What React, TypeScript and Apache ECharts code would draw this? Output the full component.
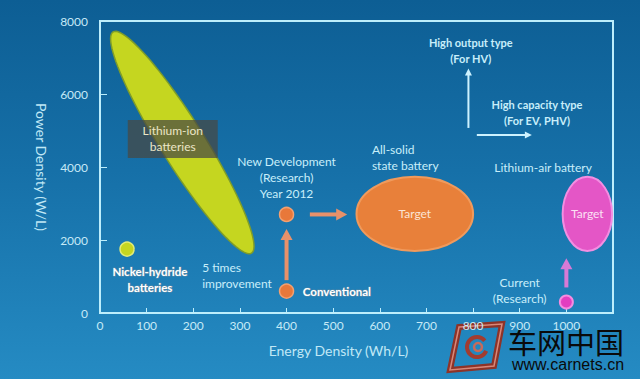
import React, { useEffect, useRef } from "react";
import * as echarts from "echarts";

// ---- axes ----
const energyAxisMax = 1100;
const energyTickStep = 100;
const powerAxisMax = 8000;
const powerTickStep = 2000;

// ---- data (Energy Density Wh/L, Power Density W/L) ----
const lithiumIonSpan = [[28, 7700], [325, 1640]]; // ends of the Li-ion band
const nickelHydride = [[58, 1750]];
const conventional = [[400, 600]];
const newDevelopment = [[400, 2700]];
const lithiumAirCurrent = [[1000, 300]];
const allSolidTargetX = [550, 800];
const allSolidTargetY = [1700, 3730];
const lithiumAirTargetX = [992, 1098];
const lithiumAirTargetY = [1700, 3730];
const improvementArrows = [[400, 900, 400, 2300], [450, 2700, 530, 2700]];
const lithiumAirArrows = [[1000, 700, 1000, 1500]];
const typeArrows = [[790, 5070, 790, 6700], [808, 4880, 926, 4880]];

const noteTexts = [
  "Lithium-ion\nbatteries",
  "Nickel-hydride\nbatteries",
  "5 times\nimprovement",
  "Conventional",
  "New Development\n(Research)\nYear 2012",
  "All-solid\nstate battery",
  "Lithium-air battery",
  "Current\n(Research)",
  "High output type\n(For HV)",
  "High capacity type\n(For EV, PHV)",
];
const noteX = [156, 107, 219, 435, 400, 583, 950, 900, 795, 937];
const noteY = [4770, 920, 1040, 600, 3700, 4270, 4000, 630, 7180, 5480];

const FONT = 'Lato, "Open Sans", sans-serif';
const CYAN_TEXT = "#c8eefa";
const AXIS_COLOR = "#bdeefc";

function arrowRenderer(color: string, width: number, headLen: number, headWidth: number) {
  return (params: any, api: any) => {
    const a = api.coord([api.value(0), api.value(1)]);
    const b = api.coord([api.value(2), api.value(3)]);
    const dx = b[0] - a[0];
    const dy = b[1] - a[1];
    const len = Math.hypot(dx, dy) || 1;
    const ux = dx / len;
    const uy = dy / len;
    const px = -uy;
    const py = ux;
    const base = [b[0] - ux * headLen, b[1] - uy * headLen];
    return {
      type: "group",
      children: [
        {
          type: "line",
          shape: { x1: a[0], y1: a[1], x2: base[0] + ux, y2: base[1] + uy },
          style: { stroke: color, lineWidth: width },
        },
        {
          type: "polygon",
          shape: {
            points: [
              [b[0], b[1]],
              [base[0] + (px * headWidth) / 2, base[1] + (py * headWidth) / 2],
              [base[0] - (px * headWidth) / 2, base[1] - (py * headWidth) / 2],
            ],
          },
          style: { fill: color },
        },
      ],
    };
  };
}

function bandRenderer(params: any, api: any) {
  const a = api.coord([api.value(0), api.value(1)]);
  const b = api.coord([api.value(2), api.value(3)]);
  const cx = (a[0] + b[0]) / 2;
  const cy = (a[1] + b[1]) / 2;
  const dx = b[0] - a[0];
  const dy = b[1] - a[1];
  const len = Math.hypot(dx, dy);
  const ux = dx / len;
  const uy = dy / len;
  const vx = -uy;
  const vy = ux;
  const ra = len / 2;
  const rb = 22;
  const pts: number[][] = [];
  for (let i = 0; i < 96; i++) {
    const t = (i / 96) * Math.PI * 2;
    const c = Math.cos(t) * ra;
    const s = Math.sin(t) * rb;
    pts.push([cx + ux * c + vx * s, cy + uy * c + vy * s]);
  }
  return {
    type: "polygon",
    shape: { points: pts },
    style: { fill: "#c5d620", stroke: "#7e9c2a", lineWidth: 1.5 },
  };
}

function targetRenderer(fill: string, stroke: string, textFill: string) {
  return (params: any, api: any) => {
    const p0 = api.coord([api.value(0), api.value(1)]);
    const p1 = api.coord([api.value(2), api.value(3)]);
    const cx = (p0[0] + p1[0]) / 2;
    const cy = (p0[1] + p1[1]) / 2;
    return {
      type: "group",
      children: [
        {
          type: "ellipse",
          shape: { cx, cy, rx: Math.abs(p1[0] - p0[0]) / 2, ry: Math.abs(p1[1] - p0[1]) / 2 },
          style: { fill, stroke, lineWidth: 2 },
        },
        {
          type: "text",
          x: cx,
          y: cy,
          style: {
            text: "Target",
            fill: textFill,
            font: `12px ${FONT}`,
            align: "center",
            verticalAlign: "middle",
          },
        },
      ],
    };
  };
}

const noteStyles: any[] = [
  { fill: "#ece6c6", align: "center", weight: "normal", size: 12, box: true },
  { fill: "#ffffff", align: "center", weight: "bold", size: 11.5, stroke: "#5a8aa8" },
  { fill: CYAN_TEXT, align: "left", weight: "normal", size: 12 },
  { fill: "#ffffff", align: "left", weight: "bold", size: 11.5, stroke: "#5a8aa8" },
  { fill: CYAN_TEXT, align: "center", weight: "normal", size: 12 },
  { fill: CYAN_TEXT, align: "left", weight: "normal", size: 12 },
  { fill: CYAN_TEXT, align: "center", weight: "normal", size: 12 },
  { fill: CYAN_TEXT, align: "center", weight: "normal", size: 12 },
  { fill: CYAN_TEXT, align: "center", weight: "bold", size: 11 },
  { fill: CYAN_TEXT, align: "center", weight: "bold", size: 11 },
];

function noteRenderer(params: any, api: any) {
  const i = api.value(2);
  const p = api.coord([api.value(0), api.value(1)]);
  const st = noteStyles[i];
  const children: any[] = [];
  if (st.box) {
    children.push({
      type: "rect",
      shape: { x: p[0] - 45, y: p[1] - 19, width: 90, height: 38 },
      style: { fill: "rgba(72,72,66,0.72)" },
    });
  }
  children.push({
    type: "text",
    x: p[0],
    y: p[1],
    style: {
      text: noteTexts[i],
      fill: st.fill,
      font: `${st.weight} ${st.size}px ${FONT}`,
      align: st.align,
      verticalAlign: "middle",
      lineHeight: 16,
      stroke: st.stroke,
      lineWidth: st.stroke ? 1.2 : 0,
    },
  });
  return { type: "group", children };
}

export default function App() {
  const ref = useRef<HTMLDivElement>(null);
  useEffect(() => {
    if (!ref.current) return;
    const chart = echarts.init(ref.current, null, { renderer: "svg" });
    const option: any = {
      animation: false,
      textStyle: { fontFamily: FONT },
      grid: {
        left: 100,
        right: 27,
        top: 21,
        bottom: 66,
        show: true,
        borderColor: AXIS_COLOR,
        borderWidth: 2,
        backgroundColor: "transparent",
      },
      xAxis: {
        type: "value",
        min: 0,
        max: energyAxisMax,
        interval: energyTickStep,
        name: "Energy Density (Wh/L)",
        nameLocation: "middle",
        nameGap: 30,
        nameTextStyle: { color: "#c0e8f6", fontSize: 14, fontFamily: FONT, padding: [0, 36, 0, 0] },
        axisLine: { show: true, lineStyle: { color: AXIS_COLOR, width: 2 } },
        axisTick: { show: true, inside: true, length: 5, lineStyle: { color: AXIS_COLOR, width: 1 } },
        axisLabel: {
          color: "#c6eaf7",
          fontSize: 12,
          margin: 6,
          fontFamily: FONT,
          formatter: (v: number) => (v > 1000 ? "" : String(v)),
        },
        splitLine: { show: false },
      },
      yAxis: {
        type: "value",
        min: 0,
        max: powerAxisMax,
        interval: powerTickStep,
        name: "Power Density (W/L)",
        nameLocation: "middle",
        nameRotate: -90,
        nameGap: 52,
        nameTextStyle: { color: "#c0e8f6", fontSize: 14, fontFamily: FONT },
        axisLine: { show: true, lineStyle: { color: AXIS_COLOR, width: 2 } },
        axisTick: { show: true, inside: true, length: 7, lineStyle: { color: AXIS_COLOR, width: 1 } },
        axisLabel: {
          color: "#c6eaf7",
          fontSize: 12,
          margin: 12,
          fontFamily: FONT,
          formatter: (v: number) => String(v),
        },
        splitLine: { show: false },
      },
      series: [
        {
          type: "custom",
          name: "Lithium-ion band",
          z: 2,
          renderItem: bandRenderer,
          data: [[...lithiumIonSpan[0], ...lithiumIonSpan[1]]],
        },
        {
          type: "custom",
          name: "All-solid target",
          z: 2,
          renderItem: targetRenderer("#e8803a", "#f09a5c", "#fbe4d4"),
          data: [[allSolidTargetX[0], allSolidTargetY[0], allSolidTargetX[1], allSolidTargetY[1]]],
        },
        {
          type: "custom",
          name: "Lithium-air target",
          z: 2,
          renderItem: targetRenderer("#e456c6", "#f38ee2", "#fbe0f4"),
          data: [[lithiumAirTargetX[0], lithiumAirTargetY[0], lithiumAirTargetX[1], lithiumAirTargetY[1]]],
        },
        {
          type: "custom",
          name: "improvement arrows",
          z: 3,
          renderItem: arrowRenderer("#e8916a", 4, 11, 12),
          data: improvementArrows,
        },
        {
          type: "custom",
          name: "lithium-air arrow",
          z: 3,
          renderItem: arrowRenderer("#d77ad6", 4, 11, 12),
          data: lithiumAirArrows,
        },
        {
          type: "custom",
          name: "type arrows",
          z: 3,
          renderItem: arrowRenderer("#cdf2ff", 2, 7, 7),
          data: typeArrows,
        },
        {
          type: "scatter",
          name: "Nickel-hydride",
          z: 4,
          symbolSize: 14,
          itemStyle: { color: "#c5d620", borderColor: "#e2ec78", borderWidth: 1.5, opacity: 1 },
          data: nickelHydride,
        },
        {
          type: "scatter",
          name: "Conventional / New Development",
          z: 4,
          symbolSize: 14,
          itemStyle: { color: "#e8783a", borderColor: "#f3a070", borderWidth: 1.5, opacity: 1 },
          data: [...conventional, ...newDevelopment],
        },
        {
          type: "scatter",
          name: "Lithium-air current",
          z: 4,
          symbolSize: 13,
          itemStyle: { color: "#e23ec0", borderColor: "#f48ce0", borderWidth: 2, opacity: 1 },
          data: lithiumAirCurrent,
        },
        {
          type: "custom",
          name: "notes",
          z: 5,
          renderItem: noteRenderer,
          data: noteX.map((x, i) => [x, noteY[i], i]),
        },
      ],
      graphic: [
        {
          type: "group",
          z: 100,
          children: [
            {
              type: "polygon",
              shape: { points: [[459, 327], [502, 324], [494, 366], [450, 370]] },
              style: { fill: "none", stroke: "#8e3328", lineWidth: 6 },
            },
            {
              type: "polygon",
              shape: { points: [[459, 327], [502, 324], [494, 366], [450, 370]] },
              style: { fill: "none", stroke: "#d8887a", lineWidth: 1.5 },
            },
            {
              type: "arc",
              shape: { cx: 477, cy: 347, r: 10, startAngle: 0.4, endAngle: 5.6 },
              style: { fill: "none", stroke: "#a23c30", lineWidth: 4 },
            },
            {
              type: "circle",
              shape: { cx: 478, cy: 347, r: 4 },
              style: { fill: "none", stroke: "#c86a5a", lineWidth: 2.5 },
            },
            {
              type: "text",
              x: 508,
              y: 341,
              style: {
                text: "车网中国",
                fill: "#0a0a0a",
                font: '29px "Noto Sans CJK SC", sans-serif',
                align: "left",
                verticalAlign: "middle",
              },
            },
            {
              type: "text",
              x: 512,
              y: 364,
              style: {
                text: "www.carnets.cn",
                fill: "#0a0a0a",
                font: '16px "Liberation Sans", Arial, sans-serif',
                align: "left",
                verticalAlign: "middle",
              },
            },
          ],
        },
      ],
    };
    chart.setOption(option);
    return () => chart.dispose();
  }, []);
  return (
    <div
      ref={ref}
      style={{
        position: "fixed",
        left: 0,
        top: 0,
        width: 640,
        height: 379,
        background: "linear-gradient(180deg, #0d5e94 0%, #1670a8 45%, #258bc3 100%)",
      }}
    />
  );
}
